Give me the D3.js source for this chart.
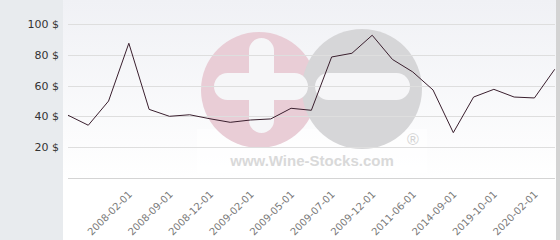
<html><head>
<script src="https://d3js.org/d3.v7.min.js"></script>
<style>
  body { margin: 0; background: #fff; }
  text { font-family: "DejaVu Sans", sans-serif; }
</style>
</head>
<body>
<svg id="chart" width="560" height="240"></svg>
<script>
// wine price history (USD), one point per quote date
// dates: only every other one is printed on the axis, the rest are unreadable
const dates = [null, null, null, "2008-02-01", null, "2008-09-01", null, "2008-12-01",
               null, "2009-02-01", null, "2009-05-01", null, "2009-07-01", null, "2009-12-01",
               null, "2011-06-01", null, "2014-09-01", null, "2019-10-01", null, "2020-02-01", null];
const prices = [40.8, 34.3, 50.0, 87.5, 44.6, 40.1, 41.1, 38.5, 36.2, 37.7, 38.4, 45.3, 44.0,
                78.6, 81.0, 92.7, 77.0, 68.9, 57.2, 29.5, 52.6, 57.6, 52.6, 52.0, 70.6];
const yTicks = [20, 40, 60, 80, 100];

const svg = d3.select("#chart");
const width = +svg.attr("width");
const height = +svg.attr("height");
const plotLeft = 63, plotRight = 556;

const x = d3.scalePoint().domain(d3.range(prices.length)).range([68, 554.7]);
const y = d3.scaleLinear().domain([0, 100]).range([178.1, 24]);

// backgrounds
const grad = svg.append("defs").append("linearGradient")
  .attr("id", "bg").attr("x1", 0).attr("y1", 0).attr("x2", 0).attr("y2", 1);
grad.append("stop").attr("offset", "0%").attr("stop-color", "#f0f1f5");
grad.append("stop").attr("offset", "75%").attr("stop-color", "#ffffff");

svg.append("rect").attr("x", 0).attr("y", 0).attr("width", plotLeft).attr("height", height)
  .attr("fill", "#e8ebee");
svg.append("rect").attr("x", plotLeft).attr("y", 0).attr("width", plotRight - plotLeft).attr("height", height)
  .attr("fill", "url(#bg)");
svg.append("rect").attr("x", plotRight).attr("y", 0).attr("width", width - plotRight).attr("height", height)
  .attr("fill", "#d3d3d3");

// watermark logo
const wm = svg.append("g");
wm.append("rect").attr("x", 197).attr("y", 129).attr("width", 230).attr("height", 44)
  .attr("fill", "#fff").attr("opacity", 0.6);
wm.append("circle").attr("cx", 259).attr("cy", 90).attr("r", 58).attr("fill", "#e9cdd6");
wm.append("circle").attr("cx", 362).attr("cy", 89).attr("r", 60).attr("fill", "#d6d6d8");
wm.append("rect").attr("x", 214).attr("y", 73).attr("width", 94).attr("height", 27).attr("rx", 13.5)
  .attr("fill", "#f6f6f8");
wm.append("rect").attr("x", 249).attr("y", 38).attr("width", 25).attr("height", 95).attr("rx", 12.5)
  .attr("fill", "#f6f6f8");
wm.append("rect").attr("x", 315).attr("y", 73).attr("width", 95).attr("height", 27).attr("rx", 13.5)
  .attr("fill", "#f6f6f8");
wm.append("text").attr("x", 413).attr("y", 145).attr("text-anchor", "middle")
  .style("font-family", "Liberation Sans").style("font-size", "16px").attr("fill", "#d2d2d2")
  .text("®");
wm.append("text").attr("x", 312).attr("y", 166).attr("text-anchor", "middle")
  .style("font-family", "Liberation Sans").style("font-weight", "bold").style("font-size", "15px")
  .attr("fill", "#d9d9d9").text("www.Wine-Stocks.com");

// grid
svg.append("g").selectAll("line").data([0].concat(yTicks))
  .join("line")
  .attr("x1", 68).attr("x2", 555)
  .attr("y1", d => Math.round(y(d)) + 0.5).attr("y2", d => Math.round(y(d)) + 0.5)
  .attr("stroke", d => d === 0 ? "#d4d4d4" : "#dedede");

// y labels
svg.append("g").selectAll("text").data(yTicks)
  .join("text")
  .attr("x", 59).attr("y", d => y(d) + 4)
  .attr("text-anchor", "end")
  .style("font-size", "11px").attr("fill", "#333")
  .text(d => d + " $");

// x labels
const labelled = d3.range(dates.length).filter(i => dates[i]);
svg.append("g").selectAll("text").data(labelled)
  .join("text")
  .attr("text-anchor", "end")
  .attr("transform", i => "translate(" + (x(i) + 4) + ",195) rotate(-45)")
  .style("font-size", "10px").attr("fill", "#7a7a7a")
  .text(i => dates[i]);

// price line
const line = d3.line().x((d, i) => x(i)).y(d => y(d));
svg.append("path").datum(prices)
  .attr("d", line)
  .attr("fill", "none")
  .attr("stroke", "#3a1f2e")
  .attr("stroke-width", 1);
</script>
</body>
</html>
